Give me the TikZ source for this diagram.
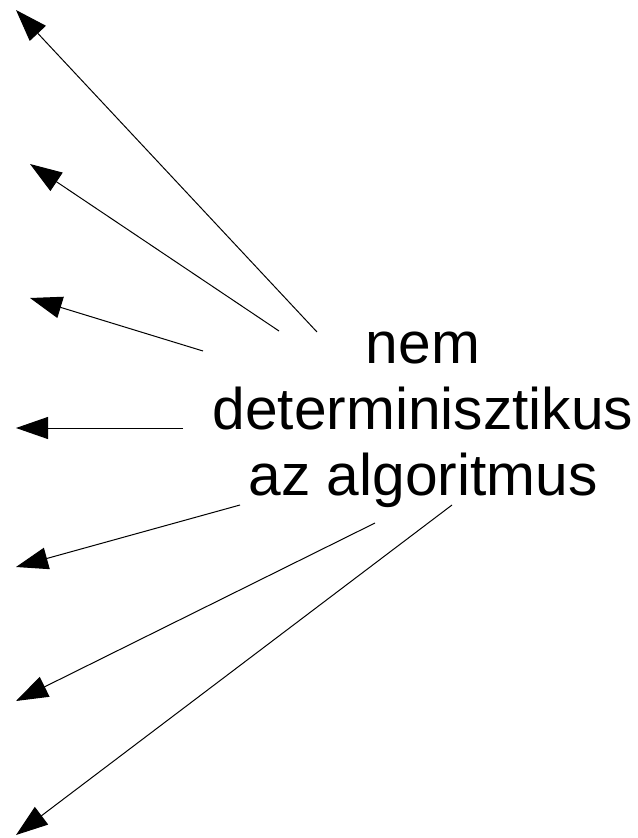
\documentclass[tikz,border=0pt]{standalone}
\usepackage{fontspec}
\setmainfont{Liberation Sans}
\usetikzlibrary{arrows.meta}

\begin{document}
\begin{tikzpicture}[
        x=0.75pt,
        y=-0.75pt,
        >={Triangle[length=24pt, width=16.5pt]},
        every node/.style={align=center},
        label/.style={font=\fontsize{44}{49.5}\selectfont, inner sep=0pt},
        ray/.style={->, line width=0.75pt}
    ]
        \useasboundingbox (0,0) rectangle (637,838);
        \node[label] (txt) at (423,420) {nem\\determinisztikus\\az algoritmus};
        \foreach \i/\sx/\sy/\tx/\ty in {1/317/332/16/10, 2/279/331/30/164, 3/203/351/30/298,
                4/183/428/16/428, 5/240/505/16/567, 6/375/523/16/701, 7/452/505/16/835} {
            \coordinate (s\i) at (\sx,\sy);
            \coordinate (t\i) at (\tx,\ty);
            \draw[ray] (s\i) -- (t\i);
        }
\end{tikzpicture}
\end{document}
